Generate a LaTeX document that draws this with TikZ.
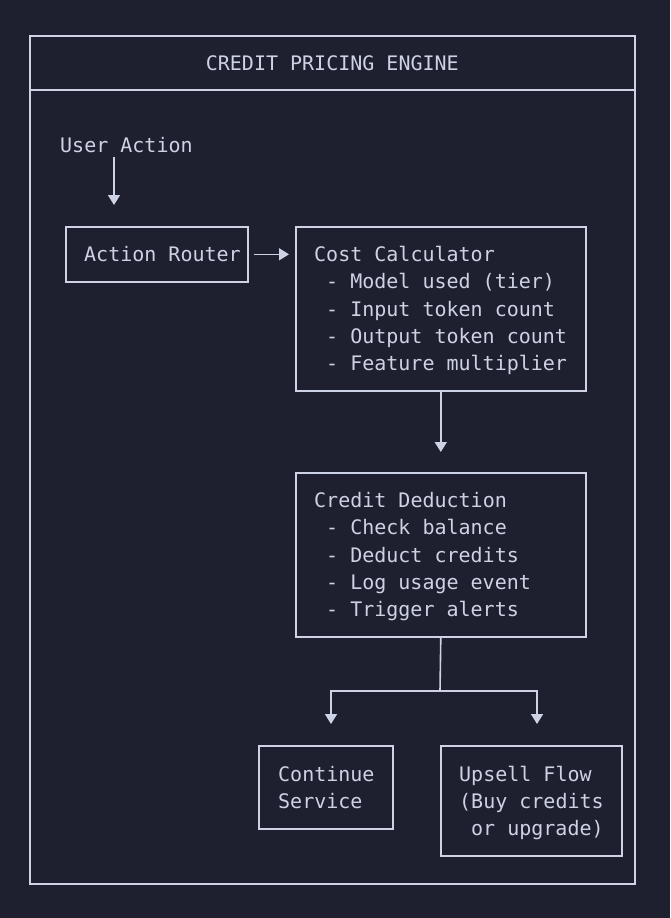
\documentclass[tikz,border=0pt]{standalone}
\usepackage{fontspec}
\setmonofont{DejaVu Sans Mono}
\usetikzlibrary{arrows.meta}
\definecolor{bg}{HTML}{1E2030}
\definecolor{fg}{HTML}{CDD2E4}
\begin{document}
\begin{tikzpicture}[x=1pt,y=-1pt,
  box/.style={draw=fg,line width=1.6pt,inner sep=0pt,anchor=north west},
  txt/.style={text=fg,font=\ttfamily\fontsize{20}{24}\selectfont,inner sep=0pt,anchor=base west},
  arr/.style={draw=fg,line width=1.6pt,-{Triangle[width=12pt,length=10pt]}},
  wire/.style={draw=fg,line width=1.6pt}]
\fill[bg] (0,0) rectangle (670,918);
\useasboundingbox (0,0) rectangle (670,918);
% frame
\node[box,minimum width=605pt,minimum height=54pt,text=fg,font=\ttfamily\fontsize{20}{24}\selectfont] (title) at (29,35) {CREDIT PRICING ENGINE};
\node[box,minimum width=605pt,minimum height=794pt] (body) at (29,89) {};
% boxes
\node[box,minimum width=182pt,minimum height=55pt] (ar) at (65,226) {};
\node[box,minimum width=290pt,minimum height=164pt] (cc) at (295,226) {};
\node[box,minimum width=290pt,minimum height=164pt] (cd) at (295,472) {};
\node[box,minimum width=134pt,minimum height=83pt] (cs) at (258,745) {};
\node[box,minimum width=181pt,minimum height=110pt] (uf) at (440,745) {};
% texts
\node[txt] (ua) at (60,152) {User Action};
\node[txt] (arT) at (84,261.5) {Action Router};
\node[txt] (cc1) at (314,261.5) {Cost Calculator};
\node[txt] (cc2) at (326,288.8) {- Model used (tier)};
\node[txt] (cc3) at (326,316) {- Input token count};
\node[txt] (cc4) at (326,343.2) {- Output token count};
\node[txt] (cc5) at (326,370.4) {- Feature multiplier};
\node[txt] (cd1) at (314,507.5) {Credit Deduction};
\node[txt] (cd2) at (326,534.8) {- Check balance};
\node[txt] (cd3) at (326,562) {- Deduct credits};
\node[txt] (cd4) at (326,589.2) {- Log usage event};
\node[txt] (cd5) at (326,616.4) {- Trigger alerts};
\node[txt] (cs1) at (278,781.7) {Continue};
\node[txt] (cs2) at (278,808.6) {Service};
\node[txt] (uf1) at (459,781.7) {Upsell Flow};
\node[txt] (uf2) at (459,808.6) {(Buy credits};
\node[txt] (uf3) at (471,835.5) {or upgrade)};
% connectors
\coordinate (uaOut) at (114,157);
\draw[arr,shorten >=21pt] (uaOut) -- (uaOut |- ar.north);
\draw[arr,shorten <=5pt,shorten >=6pt] (ar.east) -- (ar.east -| cc.west);
\draw[arr,shorten >=20pt] (cc.south) -- (cd.north);
\coordinate (j) at (440,691);
\coordinate (csIn) at (331,745);
\coordinate (ufIn) at (537,745);
\draw[wire] (cd.south) -- (j);
\draw[arr,shorten >=21pt] (j) -| (csIn);
\draw[arr,shorten >=21pt] (j) -| (ufIn);
\end{tikzpicture}
\end{document}
